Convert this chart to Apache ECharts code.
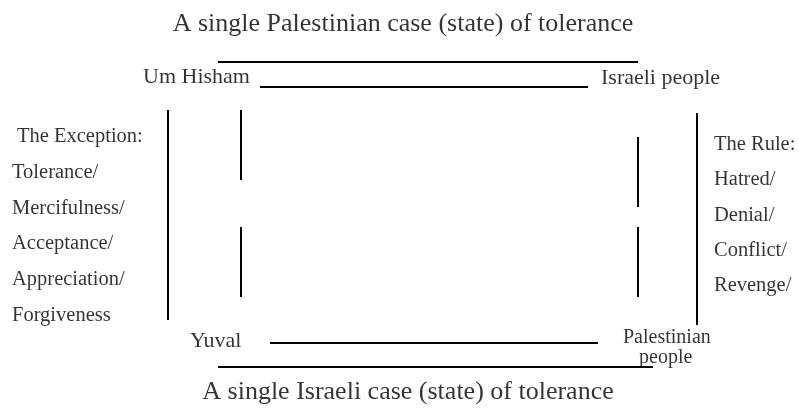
<!DOCTYPE html>
<html>
<head>
<meta charset="utf-8">
<script src="https://cdn.jsdelivr.net/npm/echarts@6/dist/echarts.min.js"></script>
<style>
  html, body { margin: 0; padding: 0; background: #fff; }
</style>
</head>
<body>
<div id="diagram" style="width: 799px; height: 410px;"></div>
<script>
// line segments of the diagram, [x1, y1, x2, y2] in diagram units
var horizontalLines = [
  [218, 62, 638, 62],
  [260, 87, 588, 87],
  [270, 343, 598, 343],
  [218, 367, 653, 367]
];
var verticalLines = [
  [168, 110, 168, 320],
  [241, 110, 241, 180],
  [241, 227, 241, 297],
  [638, 137, 638, 207],
  [638, 227, 638, 297],
  [697, 113, 697, 325]
];

// titles (centred)
var titles = [
  [403, 24, "A single Palestinian case (state) of tolerance"],
  [408, 392, "A single Israeli case (state) of tolerance"]
];
// corner labels (left aligned)
var cornerLabels = [
  [143, 77, "Um Hisham"],
  [601, 78, "Israeli people"],
  [190, 341, "Yuval"]
];
var smallLabels = [
  [623, 338, "Palestinian"],
  [639, 358, "people"]
];
// side lists
var exceptionList = [
  [17, 137, "The Exception:"],
  [12, 173, "Tolerance/"],
  [12, 209, "Mercifulness/"],
  [12, 244, "Acceptance/"],
  [12, 280, "Appreciation/"],
  [12, 316, "Forgiveness"]
];
var ruleList = [
  [714, 145, "The Rule:"],
  [714, 180, "Hatred/"],
  [714, 216, "Denial/"],
  [714, 251, "Conflict/"],
  [714, 286, "Revenge/"]
];

var font = "Liberation Serif, Times New Roman, serif";

function toCoords(list) {
  return list.map(function (s) {
    return { coords: [[s[0], s[1]], [s[2], s[3]]] };
  });
}

function textSeries(data, size, align) {
  return {
    type: "scatter",
    symbolSize: 0,
    silent: true,
    z: 5,
    data: data,
    label: {
      show: true,
      position: "inside",
      align: align,
      verticalAlign: "middle",
      color: "#000",
      textBorderWidth: 0,
      fontFamily: font,
      fontSize: size,
      formatter: function (p) { return p.value[2]; }
    }
  };
}

var myChart = echarts.init(document.getElementById("diagram"));
var option = {
  backgroundColor: "#fff",
  animation: false,
  grid: { left: 0, right: 0, top: 0, bottom: 0 },
  xAxis: { type: "value", min: 0, max: 799, show: false },
  yAxis: { type: "value", min: 0, max: 410, inverse: true, show: false },
  series: [
    {
      type: "lines",
      coordinateSystem: "cartesian2d",
      silent: true,
      lineStyle: { color: "#000", width: 2, opacity: 1 },
      data: toCoords(horizontalLines.concat(verticalLines))
    },
    textSeries(titles, 26, "center"),
    textSeries(cornerLabels, 22, "left"),
    textSeries(smallLabels, 20, "left"),
    textSeries(exceptionList, 20.5, "left"),
    textSeries(ruleList, 20.5, "left")
  ]
};
myChart.setOption(option);
</script>
</body>
</html>
